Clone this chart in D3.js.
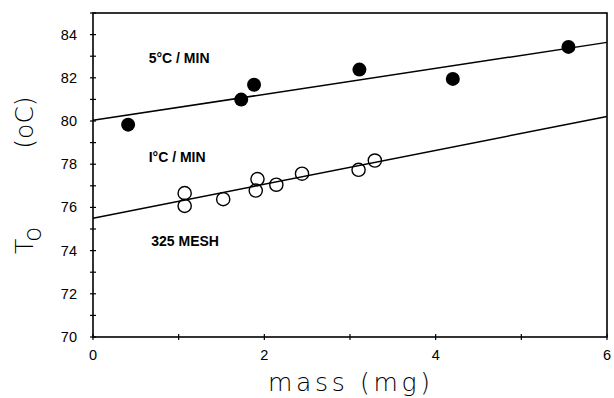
<!DOCTYPE html>
<html><head><meta charset="utf-8">
<script src="https://cdn.jsdelivr.net/npm/d3@7"></script>
<style>body{margin:0;background:#fff}</style>
</head><body>
<svg id="c" width="614" height="398"></svg>
<script>
// Data
const massFilled = [0.41, 1.73, 1.88, 3.11, 4.20, 5.55];
const toFilled   = [79.83, 80.99, 81.68, 82.38, 81.95, 83.43];
const massOpen = [1.07, 1.07, 1.52, 1.92, 1.90, 2.14, 2.44, 3.10, 3.29];
const toOpen   = [76.66, 76.07, 76.38, 77.31, 76.78, 77.05, 77.56, 77.74, 78.17];
const fitMass = [0, 6];
const fit5 = [80.03, 83.64];
const fit1 = [75.50, 80.21];
const xTicks = [0, 2, 4, 6];
const xMinor = [1, 3, 5];
const yTicks = [70, 72, 74, 76, 78, 80, 82, 84];
const yMinor = [71, 73, 75, 77, 79, 81, 83, 85];
const labels = [
  {text: "5°C / MIN", m: 0.65, t: 82.7},
  {text: "I°C / MIN", m: 0.65, t: 78.1},
  {text: "325 MESH", m: 0.68, t: 74.2}
];

const W = 614, H = 398;
const m = {l: 93, r: 7, t: 13, b: 61};
const svg = d3.select("#c");
const x = d3.scaleLinear().domain([0, 6]).range([m.l, W - m.r]);
const y = d3.scaleLinear().domain([70, 85]).range([H - m.b, m.t]);

const g = svg.append("g");
// frame
g.append("rect").attr("x", x(0)).attr("y", y(85)).attr("width", x(6) - x(0)).attr("height", y(70) - y(85))
  .attr("fill", "none").attr("stroke", "#000").attr("stroke-width", 1.6);

// ticks (crossing axis lines)
const tickG = g.append("g").attr("stroke", "#000").attr("stroke-width", 1.2);
xTicks.concat(xMinor).forEach(v => {
  tickG.append("line").attr("x1", x(v)).attr("x2", x(v)).attr("y1", y(70) - 3).attr("y2", y(70) + 3);
});
yTicks.concat(yMinor).forEach(v => {
  tickG.append("line").attr("y1", y(v)).attr("y2", y(v)).attr("x1", x(0) - 3).attr("x2", x(0) + 3);
});

const font = "'Liberation Sans', Arial, sans-serif";
g.selectAll(".xl").data(xTicks).join("text")
  .attr("x", d => x(d)).attr("y", y(70) + 23).attr("text-anchor", "middle")
  .attr("font-family", font).attr("font-size", 14.5).text(d => d);
g.selectAll(".yl").data(yTicks).join("text")
  .attr("x", x(0) - 16).attr("y", d => y(d) + 5).attr("text-anchor", "end")
  .attr("font-family", font).attr("font-size", 14.5).text(d => d);

// fit lines
const line = d3.line().x(d => x(d[0])).y(d => y(d[1]));
[fit5, fit1].forEach(f => {
  g.append("path").datum(fitMass.map((v, i) => [v, f[i]])).attr("d", line)
    .attr("fill", "none").attr("stroke", "#000").attr("stroke-width", 1.5);
});

// points
g.selectAll(".f").data(massFilled.map((v, i) => [v, toFilled[i]])).join("circle")
  .attr("cx", d => x(d[0])).attr("cy", d => y(d[1])).attr("r", 7).attr("fill", "#000");
g.selectAll(".o").data(massOpen.map((v, i) => [v, toOpen[i]])).join("circle")
  .attr("cx", d => x(d[0])).attr("cy", d => y(d[1])).attr("r", 6.6)
  .attr("fill", "#fff").attr("fill-opacity", 0).attr("stroke", "#000").attr("stroke-width", 1.4);

// annotations
g.selectAll(".ann").data(labels).join("text")
  .attr("x", d => x(d.m)).attr("y", d => y(d.t))
  .attr("font-family", font).attr("font-weight", "bold").attr("font-size", 14).text(d => d.text);

// axis titles
const tfont = "'DejaVu Sans', sans-serif";
svg.append("text").attr("x", 268).attr("y", 391).attr("font-family", tfont).attr("font-weight", 200)
  .attr("font-size", 25).attr("textLength", 162).attr("lengthAdjust", "spacing").text("mass (mg)");

const yt = svg.append("text").attr("transform", "translate(33,254) rotate(-90)")
  .attr("font-family", tfont).attr("font-weight", 200).attr("font-size", 25);
yt.append("tspan").text("T");
yt.append("tspan").attr("dy", 8).attr("dx", 1).text("o");
yt.append("tspan").attr("dy", -8).attr("dx", 78).text("(oC)");
</script>
</body></html>
